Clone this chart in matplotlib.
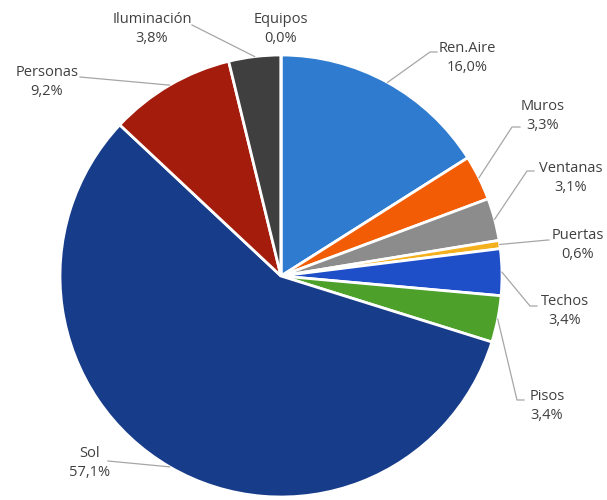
import numpy as np
import matplotlib.pyplot as plt

labels = ["Ren.Aire", "Muros", "Ventanas", "Puertas", "Techos", "Pisos",
          "Sol", "Personas", "Iluminación", "Equipos"]
values = [16.0, 3.3, 3.1, 0.6, 3.4, 3.4, 57.1, 9.2, 3.8, 0.0]
colors = ["#2E7BCF", "#F25C05", "#8C8C8C", "#F5B01E", "#1F4FC8", "#4DA12A",
          "#173C8A", "#A31C0C", "#3F3F3F", "#7F7F7F"]

# label layout in pixel coords: text centre, elbow point, line end (None = no leader)
layout = {
    "Ren.Aire": ((467, 58), (430, 52), (437, 52)),
    "Muros": ((543, 116), (512, 127), (520, 127)),
    "Ventanas": ((571, 178), (527, 171), (534, 171)),
    "Puertas": ((578, 245), (548, 240), (549, 240)),
    "Techos": ((565, 311), (530, 306), (537, 306)),
    "Pisos": ((547, 406), (517, 400), (524, 400)),
    "Sol": ((90, 463), (108, 461), (108, 461)),
    "Personas": ((47, 82), (80, 77), (80, 77)),
    "Iluminación": ((152, 29), (192, 25), (192, 25)),
    "Equipos": ((281, 29), None, None),
}

H = 500
cx, cy, r = 281, 276, 221

fig = plt.figure(figsize=(6.07, 5.00), dpi=100)
ax = fig.add_axes([0, 0, 1, 1])

ax.pie(values, colors=colors, startangle=90, counterclock=False,
       center=(cx, H - cy), radius=r, normalize=True,
       wedgeprops=dict(edgecolor="white", linewidth=2))

total = sum(values)
cum = 0.0
for lab, v in zip(labels, values):
    mid = (cum + v / 2) / total * 2 * np.pi
    cum += v
    sx = cx + r * np.sin(mid)
    sy = cy - r * np.cos(mid)
    (tx, ty), elbow, end = layout[lab]
    if elbow is not None:
        ax.plot([sx, elbow[0], end[0]], [H - sy, H - elbow[1], H - end[1]],
                color="#A6A6A6", lw=0.9, zorder=3)
    txt = lab + "\n" + f"{v:.1f}%".replace(".", ",")
    ax.text(tx, H - ty, txt, ha="center", va="center", fontsize=10.5,
            color="#404040", family="Open Sans", linespacing=1.3)

ax.set_xlim(0, 607)
ax.set_ylim(0, H)
ax.set_aspect("equal")
ax.axis("off")

fig.savefig("out.png", dpi=100)
